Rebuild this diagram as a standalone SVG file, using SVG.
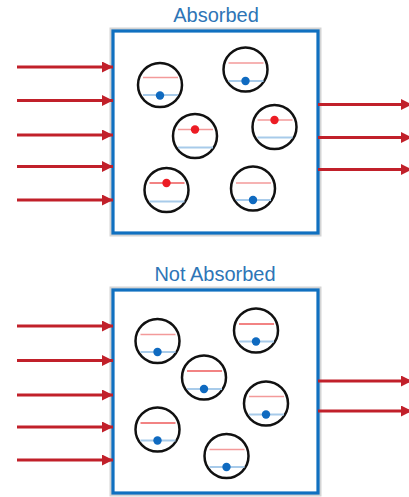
<svg xmlns="http://www.w3.org/2000/svg" width="409" height="497" viewBox="0 0 409 497">
  <defs>
    <style>
      .title { font-family: "Liberation Sans", Arial, sans-serif; font-size: 20px; fill: #2e75b6; text-anchor: middle; }
      .halo { fill: none; stroke: #d4d4d4; stroke-width: 7; }
      .box { fill: #ffffff; stroke: #1070c0; stroke-width: 3.2; }
      .atom { fill: #ffffff; stroke: #111111; stroke-width: 2.5; }
      .upper { stroke: #f39a9a; stroke-width: 1.6; }
      .upper-on { stroke: #ee5a5a; stroke-width: 1.6; }
      .lower { stroke: #a8cbea; stroke-width: 1.8; }
      .e-low { fill: #0f6ac0; }
      .e-high { fill: #ec1c24; }
      .ray { stroke: #c1202a; stroke-width: 2.8; fill: none; marker-end: url(#head); }
    </style>
    <marker id="head" markerUnits="userSpaceOnUse" markerWidth="13" markerHeight="12" refX="11" refY="5.5" orient="auto">
      <path d="M0,0 L11,5.5 L0,11 Z" fill="#c1202a"/>
    </marker>
  </defs>

  <!-- ===== Absorbed panel ===== -->
  <g id="panel-absorbed">
    <text class="title" x="216" y="22">Absorbed</text>
    <rect class="halo" x="113" y="31" width="205" height="202"/>
    <rect class="box" x="113" y="31" width="205" height="202"/>
  </g>

  <g id="atom-a1" transform="translate(160,85)">
    <circle class="atom" r="22"/>
    <line class="upper" x1="-17" y1="-7.5" x2="18" y2="-7.5"/>
    <line class="lower" x1="-17" y1="10" x2="18" y2="10"/>
    <circle class="e-low" cx="0" cy="10.5" r="4.2"/>
  </g>
  <g id="atom-a2" transform="translate(245.5,69.5)">
    <circle class="atom" r="22"/>
    <line class="upper" x1="-17" y1="-6.5" x2="18" y2="-6.5"/>
    <line class="lower" x1="-17" y1="11.5" x2="18" y2="11.5"/>
    <circle class="e-low" cx="0" cy="11.5" r="4.2"/>
  </g>
  <g id="atom-a3" transform="translate(195,136)">
    <circle class="atom" r="22"/>
    <line class="upper" x1="-17" y1="-6.5" x2="18" y2="-6.5"/>
    <line class="lower" x1="-17" y1="11.5" x2="18" y2="11.5"/>
    <circle class="e-high" cx="0" cy="-6.5" r="4.2"/>
  </g>
  <g id="atom-a4" transform="translate(274.5,127)">
    <circle class="atom" r="22"/>
    <line class="upper" x1="-17" y1="-7" x2="18" y2="-7"/>
    <line class="lower" x1="-17" y1="10.5" x2="18" y2="10.5"/>
    <circle class="e-high" cx="0" cy="-7" r="4.2"/>
  </g>
  <g id="atom-a5" transform="translate(166.5,190)">
    <circle class="atom" r="22"/>
    <line class="upper-on" x1="-17" y1="-7" x2="18" y2="-7"/>
    <line class="lower" x1="-17" y1="11.5" x2="18" y2="11.5"/>
    <circle class="e-high" cx="0" cy="-7" r="4.2"/>
  </g>
  <g id="atom-a6" transform="translate(253,188.5)">
    <circle class="atom" r="22"/>
    <line class="upper" x1="-17" y1="-5.5" x2="18" y2="-5.5"/>
    <line class="lower" x1="-17" y1="11.5" x2="18" y2="11.5"/>
    <circle class="e-low" cx="0" cy="11.5" r="4.2"/>
  </g>

  <!-- ===== Not Absorbed panel ===== -->
  <g id="panel-not-absorbed">
    <text class="title" x="215" y="281">Not Absorbed</text>
    <rect class="halo" x="113" y="290" width="205" height="203"/>
    <rect class="box" x="113" y="290" width="205" height="203"/>
  </g>

  <g id="atom-b1" transform="translate(157.5,341)">
    <circle class="atom" r="22"/>
    <line class="upper" x1="-17" y1="-6.5" x2="18" y2="-6.5"/>
    <line class="lower" x1="-17" y1="11" x2="18" y2="11"/>
    <circle class="e-low" cx="0" cy="11" r="4.2"/>
  </g>
  <g id="atom-b2" transform="translate(256,330.5)">
    <circle class="atom" r="22"/>
    <line class="upper-on" x1="-17" y1="-6.5" x2="18" y2="-6.5"/>
    <line class="lower" x1="-17" y1="11" x2="18" y2="11"/>
    <circle class="e-low" cx="0" cy="11" r="4.2"/>
  </g>
  <g id="atom-b3" transform="translate(204,377.5)">
    <circle class="atom" r="22"/>
    <line class="upper-on" x1="-17" y1="-6.5" x2="18" y2="-6.5"/>
    <line class="lower" x1="-17" y1="11.5" x2="18" y2="11.5"/>
    <circle class="e-low" cx="0" cy="11.5" r="4.2"/>
  </g>
  <g id="atom-b4" transform="translate(266,403.5)">
    <circle class="atom" r="22"/>
    <line class="upper" x1="-17" y1="-7" x2="18" y2="-7"/>
    <line class="lower" x1="-17" y1="11" x2="18" y2="11"/>
    <circle class="e-low" cx="0" cy="11" r="4.2"/>
  </g>
  <g id="atom-b5" transform="translate(157.5,429.5)">
    <circle class="atom" r="22"/>
    <line class="upper-on" x1="-17" y1="-6.5" x2="18" y2="-6.5"/>
    <line class="lower" x1="-17" y1="11" x2="18" y2="11"/>
    <circle class="e-low" cx="0" cy="11" r="4.2"/>
  </g>
  <g id="atom-b6" transform="translate(226.5,456)">
    <circle class="atom" r="22"/>
    <line class="upper" x1="-17" y1="-6.5" x2="18" y2="-6.5"/>
    <line class="lower" x1="-17" y1="11" x2="18" y2="11"/>
    <circle class="e-low" cx="0" cy="11" r="4.2"/>
  </g>

  <!-- ===== light rays ===== -->
  <g id="connectors">
    <!-- incoming, top panel -->
    <line class="ray" x1="17" y1="67" x2="113" y2="67"/>
    <line class="ray" x1="17" y1="100.5" x2="113" y2="100.5"/>
    <line class="ray" x1="17" y1="135" x2="113" y2="135"/>
    <line class="ray" x1="17" y1="166.5" x2="113" y2="166.5"/>
    <line class="ray" x1="17" y1="200" x2="113" y2="200"/>
    <!-- outgoing, top panel -->
    <line class="ray" x1="318" y1="104.5" x2="412" y2="104.5"/>
    <line class="ray" x1="318" y1="137.5" x2="412" y2="137.5"/>
    <line class="ray" x1="318" y1="169.5" x2="412" y2="169.5"/>
    <!-- incoming, bottom panel -->
    <line class="ray" x1="17" y1="326" x2="113" y2="326"/>
    <line class="ray" x1="17" y1="360.5" x2="113" y2="360.5"/>
    <line class="ray" x1="17" y1="395" x2="113" y2="395"/>
    <line class="ray" x1="17" y1="427" x2="113" y2="427"/>
    <line class="ray" x1="17" y1="460" x2="113" y2="460"/>
    <!-- outgoing, bottom panel -->
    <line class="ray" x1="318" y1="381" x2="412" y2="381"/>
    <line class="ray" x1="318" y1="411" x2="412" y2="411"/>
  </g>
</svg>
